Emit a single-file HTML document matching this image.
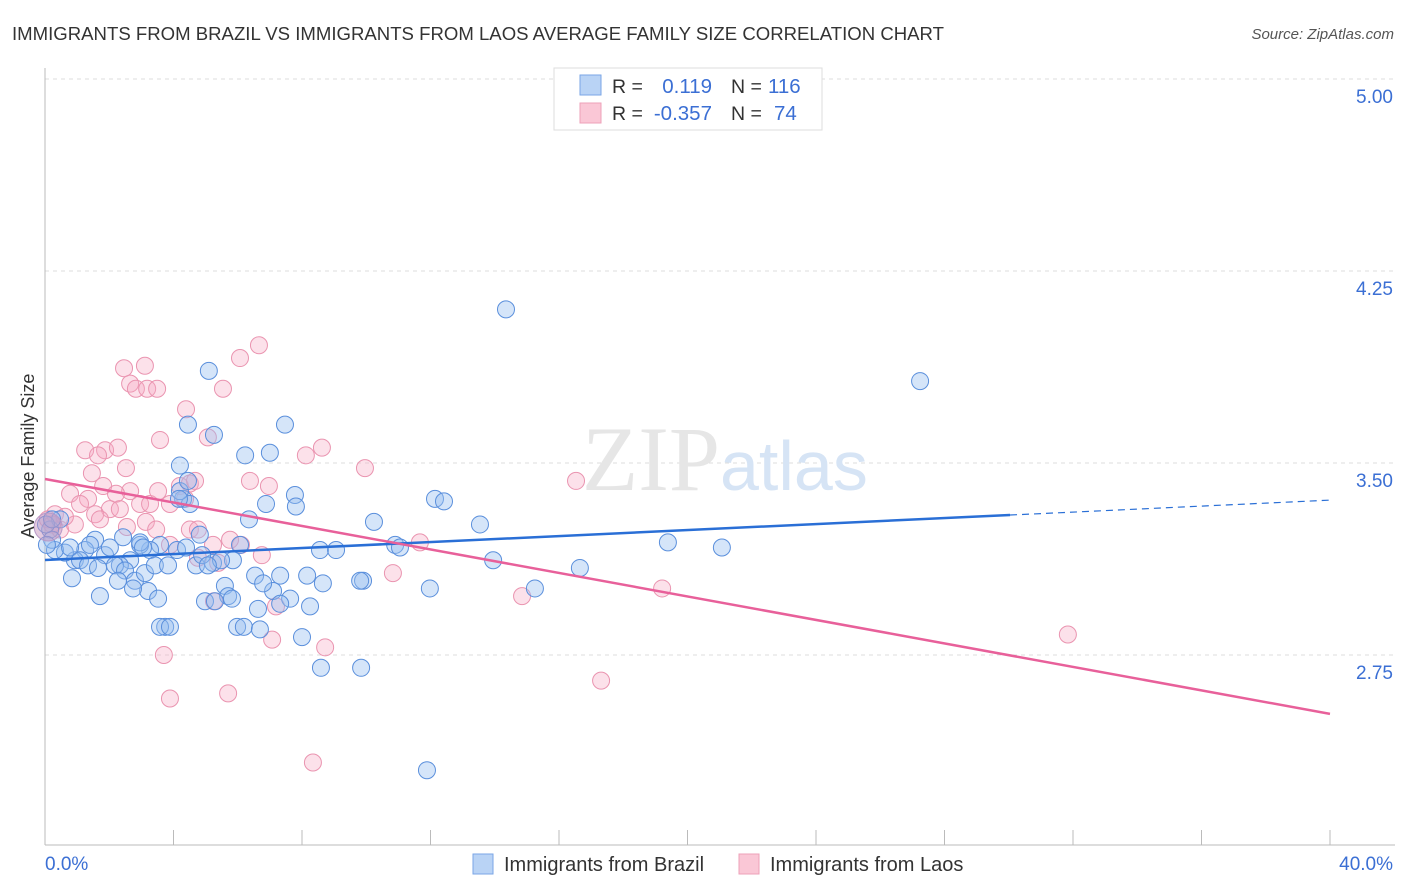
<!DOCTYPE html>
<html><head><meta charset="utf-8"><style>
body{margin:0;background:#fff;font-family:"Liberation Sans",sans-serif}
svg{display:block}
</style></head><body>
<svg id="chart" width="1406" height="892">
<text x="12" y="40" font-size="18" fill="#333" textLength="932" lengthAdjust="spacingAndGlyphs">IMMIGRANTS FROM BRAZIL VS IMMIGRANTS FROM LAOS AVERAGE FAMILY SIZE CORRELATION CHART</text>
<text x="1394" y="39" font-size="15" font-style="italic" fill="#555" text-anchor="end">Source: ZipAtlas.com</text>
<g id="grid"></g>
<text x="720" y="490" font-size="92" font-family="Liberation Serif,serif" fill="#e6e6e6" text-anchor="end">ZIP</text>
<text x="720" y="490" font-size="70" fill="#d6e4f5">atlas</text>
<line x1="45" y1="68" x2="45" y2="845" stroke="#bbb"/>
<line x1="45" y1="845" x2="1395" y2="845" stroke="#bbb"/>
<g id="ticks"></g>
<g id="pts"></g>
<g id="trend"></g>
<text x="45" y="870" font-size="19" fill="#3b6fd4">0.0%</text>
<text x="1393" y="870" font-size="19" fill="#3b6fd4" text-anchor="end">40.0%</text>
<text transform="translate(34,456) rotate(-90)" font-size="18" fill="#333" text-anchor="middle">Average Family Size</text>
<g>
<rect x="554" y="68" width="268" height="62" fill="#fff" stroke="#ddd"/>
<rect x="580" y="75" width="21" height="20" fill="#b9d3f5" stroke="#7aa6e6"/>
<rect x="580" y="103" width="21" height="20" fill="#fac7d6" stroke="#eea0b8"/>
<text x="612" y="93" font-size="19.5" fill="#333">R =</text><text x="712" y="93" font-size="20.5" fill="#3b6fd4" text-anchor="end">0.119</text>
<text x="731" y="93" font-size="19.5" fill="#333">N =</text><text x="768" y="93" font-size="20.5" fill="#3b6fd4">116</text>
<text x="612" y="120" font-size="19.5" fill="#333">R =</text><text x="712" y="120" font-size="20.5" fill="#3b6fd4" text-anchor="end">-0.357</text>
<text x="731" y="120" font-size="19.5" fill="#333">N =</text><text x="774" y="120" font-size="20.5" fill="#3b6fd4">74</text>
</g>
<g>
<rect x="473" y="854" width="20" height="20" fill="#b9d3f5" stroke="#7aa6e6"/>
<text x="504" y="871" font-size="20" fill="#333">Immigrants from Brazil</text>
<rect x="739" y="854" width="20" height="20" fill="#fac7d6" stroke="#eea0b8"/>
<text x="770" y="871" font-size="20" fill="#333">Immigrants from Laos</text>
</g>
</svg>
<script>
const yTicks=[5.00,4.25,3.50,2.75];
const xTickVals=[0,4,8,12,16,20,24,28,32,36,40];
const brazilX=[14.35,27.24,5.10,4.45,5.26,7.47,6.23,7.00,4.20,7.78,6.88,7.81,12.14,12.42,10.24,13.54,6.35,19.39,21.07,13.95,16.65,15.25,11.98,9.90,9.81,8.65,8.25,7.63,6.63,8.56,9.06,10.90,11.05,8.16,7.32,6.54,5.60,5.70,4.98,5.29,5.23,4.70,6.07,5.85,4.82,4.11,3.74,3.58,3.89,5.98,6.19,6.69,8.00,8.59,9.84,11.89,7.10,4.30,4.51,4.20,3.58,3.27,2.96,2.65,2.33,1.87,1.56,1.25,0.93,0.62,0.31,0.16,0.22,0.47,0.78,1.09,1.40,2.02,2.18,2.49,2.80,3.21,3.52,1.71,0.84,1.34,2.27,2.74,1.65,3.11,3.42,3.83,4.39,4.89,5.82,5.48,5.07,7.32,6.79,4.45,4.17,2.43,2.96,3.05,0.03,0.06,0.22];
const brazilY=[4.10,3.82,3.86,3.65,3.61,3.65,3.53,3.54,3.49,3.375,3.34,3.33,3.36,3.35,3.27,3.26,3.28,3.19,3.17,3.12,3.09,3.01,3.01,3.04,3.04,3.03,2.94,2.97,2.93,3.16,3.16,3.18,3.17,3.06,3.06,3.06,3.02,2.98,2.96,2.96,3.11,3.10,3.18,3.12,3.22,3.16,2.86,2.86,2.86,2.86,2.86,2.85,2.82,2.70,2.70,2.30,3.00,3.36,3.34,3.39,3.18,3.16,3.18,3.12,3.10,3.14,3.20,3.16,3.12,3.15,3.16,3.24,3.20,3.28,3.17,3.12,3.18,3.17,3.10,3.08,3.04,3.00,2.97,2.98,3.05,3.10,3.04,3.01,3.09,3.07,3.10,3.10,3.17,3.14,2.97,3.12,3.10,2.95,3.03,3.43,3.36,3.21,3.19,3.17,3.26,3.18,3.28];
const laosX=[6.66,6.07,3.11,2.46,2.65,2.83,3.18,3.49,5.54,4.39,5.07,3.58,1.25,1.87,2.27,1.65,2.52,1.46,8.12,8.62,9.96,16.53,6.38,6.97,1.81,2.65,2.21,0.78,1.34,1.09,2.02,2.96,3.27,3.52,4.20,4.51,4.67,3.89,3.14,4.51,4.76,6.10,6.75,4.76,5.39,5.26,7.19,10.83,11.67,14.85,19.21,31.84,3.70,5.70,3.89,17.31,8.34,7.07,8.72,0.31,0.09,0.47,0.93,0.62,0.22,2.55,3.46,5.76,3.89,5.23,4.36,2.33,1.56,1.71];
const laosY=[3.96,3.91,3.88,3.87,3.81,3.79,3.79,3.79,3.79,3.71,3.60,3.59,3.55,3.55,3.56,3.53,3.48,3.46,3.53,3.56,3.48,3.43,3.43,3.41,3.41,3.39,3.38,3.38,3.36,3.34,3.32,3.34,3.34,3.39,3.41,3.42,3.43,3.34,3.27,3.24,3.24,3.18,3.14,3.13,3.11,2.96,2.94,3.07,3.19,2.98,3.01,2.83,2.75,2.60,2.58,2.65,2.33,2.81,2.78,3.30,3.28,3.24,3.26,3.29,3.26,3.25,3.24,3.20,3.18,3.18,3.36,3.32,3.30,3.28];
const brazilTrend=[3.121,3.355];
const laosTrend=[3.4375,2.52];
const NS='http://www.w3.org/2000/svg';
const sx=v=>45+v*32.125;
const sy=v=>79+(5-v)*256;
function mk(tag,attrs,parent){const e=document.createElementNS(NS,tag);for(const k in attrs)e.setAttribute(k,attrs[k]);parent.appendChild(e);return e;}
const grid=document.getElementById('grid');
yTicks.forEach(t=>{
 const l=mk('line',{x1:45,x2:1395,y1:sy(t),y2:sy(t),stroke:'#ddd','stroke-dasharray':'4,4'},grid);
 
 
 const tx=mk('text',{x:1393,y:sy(t)+24,'font-size':19,fill:'#3b6fd4','text-anchor':'end'},grid);
 tx.textContent=t.toFixed(2);
 
 
});
const ticks=document.getElementById('ticks');
xTickVals.forEach(t=>{
 const l=mk('line',{x1:sx(t),x2:sx(t),y1:830,y2:845,stroke:'#bbb'},ticks);
 
 
});
const pts=document.getElementById('pts');
laosX.forEach((x,i)=>{
 const c=mk('circle',{cx:sx(x),cy:sy(laosY[i]),r:8.5,fill:'rgba(245,170,195,0.35)',stroke:'#ea94b0','stroke-width':1},pts);
 
 
});
brazilX.forEach((x,i)=>{
 const c=mk('circle',{cx:sx(x),cy:sy(brazilY[i]),r:8.5,fill:'rgba(150,190,240,0.4)',stroke:'#5a8fdc','stroke-width':1},pts);
 
 
});
const big=mk('circle',{cx:sx(0.1),cy:sy(3.25),r:14,fill:'rgba(200,150,190,0.5)',stroke:'#b89ac8'},pts);


const tr=document.getElementById('trend');
const bAt=x=>brazilTrend[0]+(brazilTrend[1]-brazilTrend[0])*x/40;
const l1=mk('line',{x1:sx(0),y1:sy(bAt(0)),x2:sx(30.04),y2:sy(bAt(30.04)),stroke:'#2a6fd6','stroke-width':2.5},tr);


const l2=mk('line',{x1:sx(30.04),y1:sy(bAt(30.04)),x2:sx(40),y2:sy(bAt(40)),stroke:'#2a6fd6','stroke-width':1.2,'stroke-dasharray':'7,5'},tr);


const l3=mk('line',{x1:sx(0),y1:sy(laosTrend[0]),x2:sx(40),y2:sy(laosTrend[1]),stroke:'#e8609a','stroke-width':2.5},tr);


</script>
</body></html>
